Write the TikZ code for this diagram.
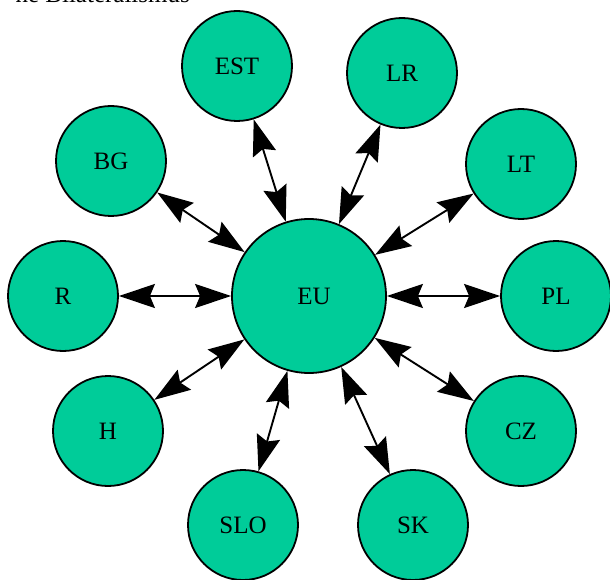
\documentclass[tikz,border=0pt]{standalone}
\usepackage{fontspec}
\setmainfont{Liberation Serif}
\usetikzlibrary{arrows.meta}
\definecolor{cfill}{RGB}{0,204,153}
\begin{document}
\begin{tikzpicture}[x=1pt,y=-1pt,
  country/.style={circle,draw=black,line width=1.8pt,fill=cfill,minimum size=110pt,inner sep=0pt,font=\fontsize{25}{30}\selectfont},
  hub/.style={country,minimum size=154pt},
  link/.style={line width=1.9pt,{Stealth[length=36pt,width=24pt,inset=5pt]}-{Stealth[length=36pt,width=24pt,inset=5pt]}}]
\clip (0,0) rectangle (610,580);
\useasboundingbox (0,0) rectangle (610,580);
\node[anchor=base east,inner sep=0pt,font=\fontsize{25}{30}\selectfont] (title) at (190,3) {he Bilateralismus};
\node[hub] (EU) at (309,296) {\hspace*{10pt}EU};
\node[country] (EST) at (237,66) {EST};
\node[country] (LR) at (402,73) {LR};
\node[country] (BG) at (111,161) {BG};
\node[country] (LT) at (521,164) {LT};
\node[country] (R) at (63,296) {R};
\node[country] (PL) at (556,296) {PL};
\node[country] (H) at (108,431) {H};
\node[country] (CZ) at (521,431) {CZ};
\node[country] (SLO) at (243,525) {SLO};
\node[country] (SK) at (413,525) {SK};
\foreach \n in {EST,LR,BG,LT,R,PL,H,CZ,SLO,SK}
  \draw[link] (EU) -- (\n);
\end{tikzpicture}
\end{document}
